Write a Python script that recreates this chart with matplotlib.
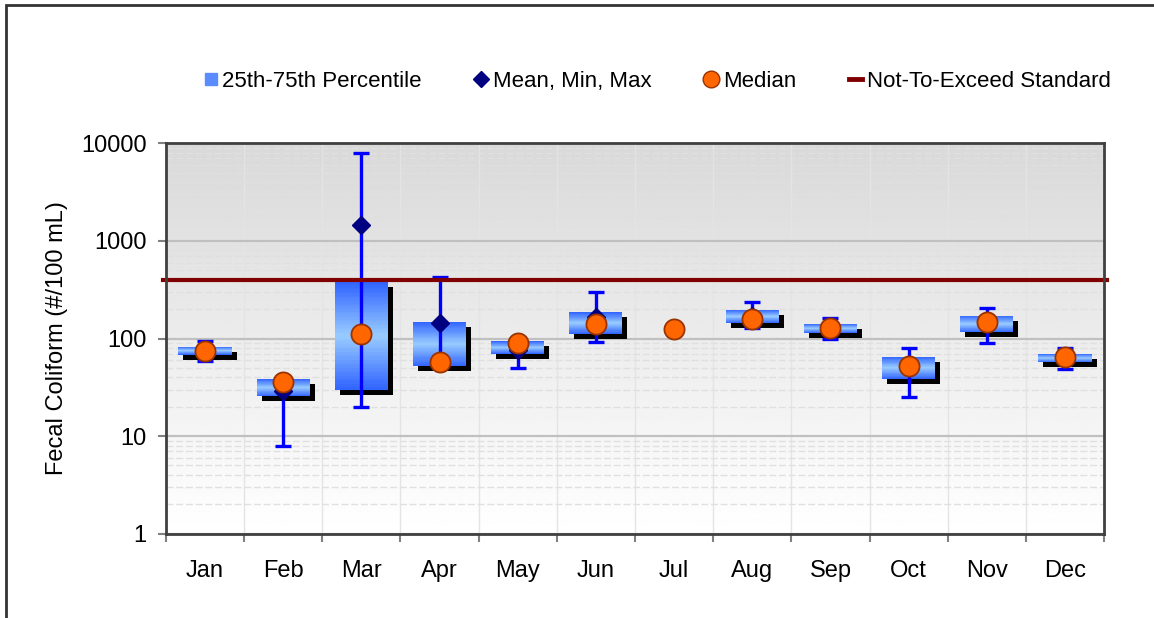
import numpy as np
import matplotlib
matplotlib.use("Agg")
import matplotlib.pyplot as plt
from matplotlib.lines import Line2D
from matplotlib.patches import Rectangle
from matplotlib.transforms import offset_copy
from matplotlib.colors import LinearSegmentedColormap

plt.rcParams["font.family"] = ["Liberation Sans", "DejaVu Sans"]

# ---------------------------------------------------------------------------
# Data
# ---------------------------------------------------------------------------

months = ["Jan", "Feb", "Mar", "Apr", "May", "Jun",
          "Jul", "Aug", "Sep", "Oct", "Nov", "Dec"]

p25    = [68.5, 25.6, 30.0, 52.0, 69.7, 112.0, np.nan, 144.0, 114.0, 38.6, 116.0, 57.1]
p75    = [82.8, 38.6, 378.0, 149.0, 93.8, 186.0, np.nan, 197.0, 142.0, 65.4, 172.0, 69.7]
mean_v = [75.0, 29.3, 1440.0, 145.0, 76.0, 165.0, 124.0, 170.0, 130.0, 52.0, 145.0, 64.0]
min_v  = [58.5, 8.0, 20.0, 57.0, 50.0, 92.0, np.nan, 129.0, 98.0, 25.0, 89.5, 49.2]
max_v  = [93.8, 36.0, 8000.0, 430.0, 90.0, 300.0, np.nan, 239.0, 161.0, 79.6, 205.0, 80.3]
median = [75.0, 35.6, 110.0, 57.0, 89.5, 142.0, 124.0, 159.0, 129.0, 52.0, 147.0, 64.3]

STANDARD = 400

# ---------------------------------------------------------------------------
# Plot
# ---------------------------------------------------------------------------

fig = plt.figure(figsize=(11.54, 6.18), dpi=100)
ax = fig.add_axes([0.1438, 0.1364, 0.8129, 0.6317])
ax.set_facecolor("none")

x = np.arange(len(months))
p25 = np.array(p25)
p75 = np.array(p75)
min_v = np.array(min_v)
max_v = np.array(max_v)

ax.set_yscale("log")
ax.set_ylim(1, 10000)
ax.set_xlim(-0.5, len(months) - 0.5)

# background gradient (dark grey at top -> white at bottom)
bg = np.linspace(1.0, 0.85, 256).reshape(-1, 1)
ax.imshow(bg, cmap="gray", vmin=0, vmax=1, aspect="auto", origin="lower",
          extent=[0, 1, 0, 1], transform=ax.transAxes, zorder=0)

# grid
ax.grid(True, which="major", axis="y", color="#c0c0c0", lw=1.6, zorder=0.5)
ax.grid(True, which="minor", axis="y", color="#e0e0e0", lw=1.0,
        linestyle=(0, (5, 2)), zorder=0.5)
ax.set_xticks(np.arange(-0.5, len(months)), minor=True)
ax.grid(True, which="minor", axis="x", color="#e4e4e4", lw=1.0, zorder=0.5)

# boxes: shadow + vertical blue gradient
width = 0.68
shadow_tr = offset_copy(ax.transData, fig=fig, x=5, y=-5, units="dots")
has_box = ~np.isnan(p25)
ax.bar(x[has_box], p75[has_box] - p25[has_box], bottom=p25[has_box], width=width,
       color="black", transform=shadow_tr, zorder=2)

box_cmap = LinearSegmentedColormap.from_list(
    "cyl", ["#3366ff", "#99ccff", "#3366ff"])
n_strips = 40
for xi, lo, hi in zip(x[has_box], p25[has_box], p75[has_box]):
    edges = np.logspace(np.log10(lo), np.log10(hi), n_strips + 1)
    cols = box_cmap(np.linspace(0, 1, n_strips))
    ax.bar(np.full(n_strips, xi), np.diff(edges), bottom=edges[:-1],
           width=width, color=cols, linewidth=0, zorder=3)

# min/max whiskers
ax.errorbar(x, (min_v + max_v) / 2, yerr=[(max_v - min_v) / 2, (max_v - min_v) / 2],
            fmt="none", ecolor="#0000ff", elinewidth=2.4, capsize=5.5,
            capthick=2.4, zorder=4)

# mean diamonds
ax.plot(x, mean_v, linestyle="none", marker="D", markersize=9.5,
        color="#000080", zorder=5)

# median circles
ax.plot(x, median, linestyle="none", marker="o", markersize=14.5,
        markerfacecolor="#ff6600", markeredgecolor="#993300",
        markeredgewidth=1.3, zorder=6)

# not-to-exceed standard
ax.axhline(STANDARD, xmin=-0.003, xmax=1.003, color="#800000", lw=3.0,
           zorder=4.5, clip_on=False)

# axes styling
for side in ["left", "bottom", "right", "top"]:
    ax.spines[side].set_color("#404040")
    ax.spines[side].set_linewidth(2)
    ax.spines[side].set_zorder(7)

ax.set_yticks([1, 10, 100, 1000, 10000])
ax.set_yticklabels(["1", "10", "100", "1000", "10000"])
ax.yaxis.set_minor_formatter(plt.NullFormatter())
ax.tick_params(axis="y", which="major", length=6, width=1.5, color="#808080",
               labelsize=17, pad=8)
ax.tick_params(axis="y", which="minor", length=0)

ax.set_xticks(x)
ax.set_xticklabels(months)
ax.tick_params(axis="x", which="major", length=0, labelsize=17, pad=19)
ax.tick_params(axis="x", which="minor", length=6, width=1.5, color="#808080")

ax.set_ylabel("Fecal Coliform (#/100 mL)", fontsize=17, labelpad=9)

# legend
handles = [
    Line2D([], [], linestyle="none", marker="s", markersize=9,
           markerfacecolor="#5b8cff", markeredgecolor="#5b8cff"),
    Line2D([], [], linestyle="none", marker="D", markersize=8, color="#000080"),
    Line2D([], [], linestyle="none", marker="o", markersize=12,
           markerfacecolor="#ff6600", markeredgecolor="#993300"),
    Line2D([], [], color="#800000", lw=3.5),
]
labels = ["25th-75th Percentile", "Mean, Min, Max", "Median", "Not-To-Exceed Standard"]
fig.legend(handles, labels, loc="center", bbox_to_anchor=(0.570, 0.868), ncol=4,
           frameon=False, fontsize=16, handlelength=0.55, handletextpad=0.25,
           columnspacing=2.4)

# chart-area border (runs off the right/bottom edge like the original)
fig.patches.append(Rectangle((6 / 1154, -0.05), 1.2, 1.05 - 5 / 618,
                             transform=fig.transFigure, fill=False,
                             edgecolor="#333333", lw=2))

fig.savefig("out.png", dpi=100)
